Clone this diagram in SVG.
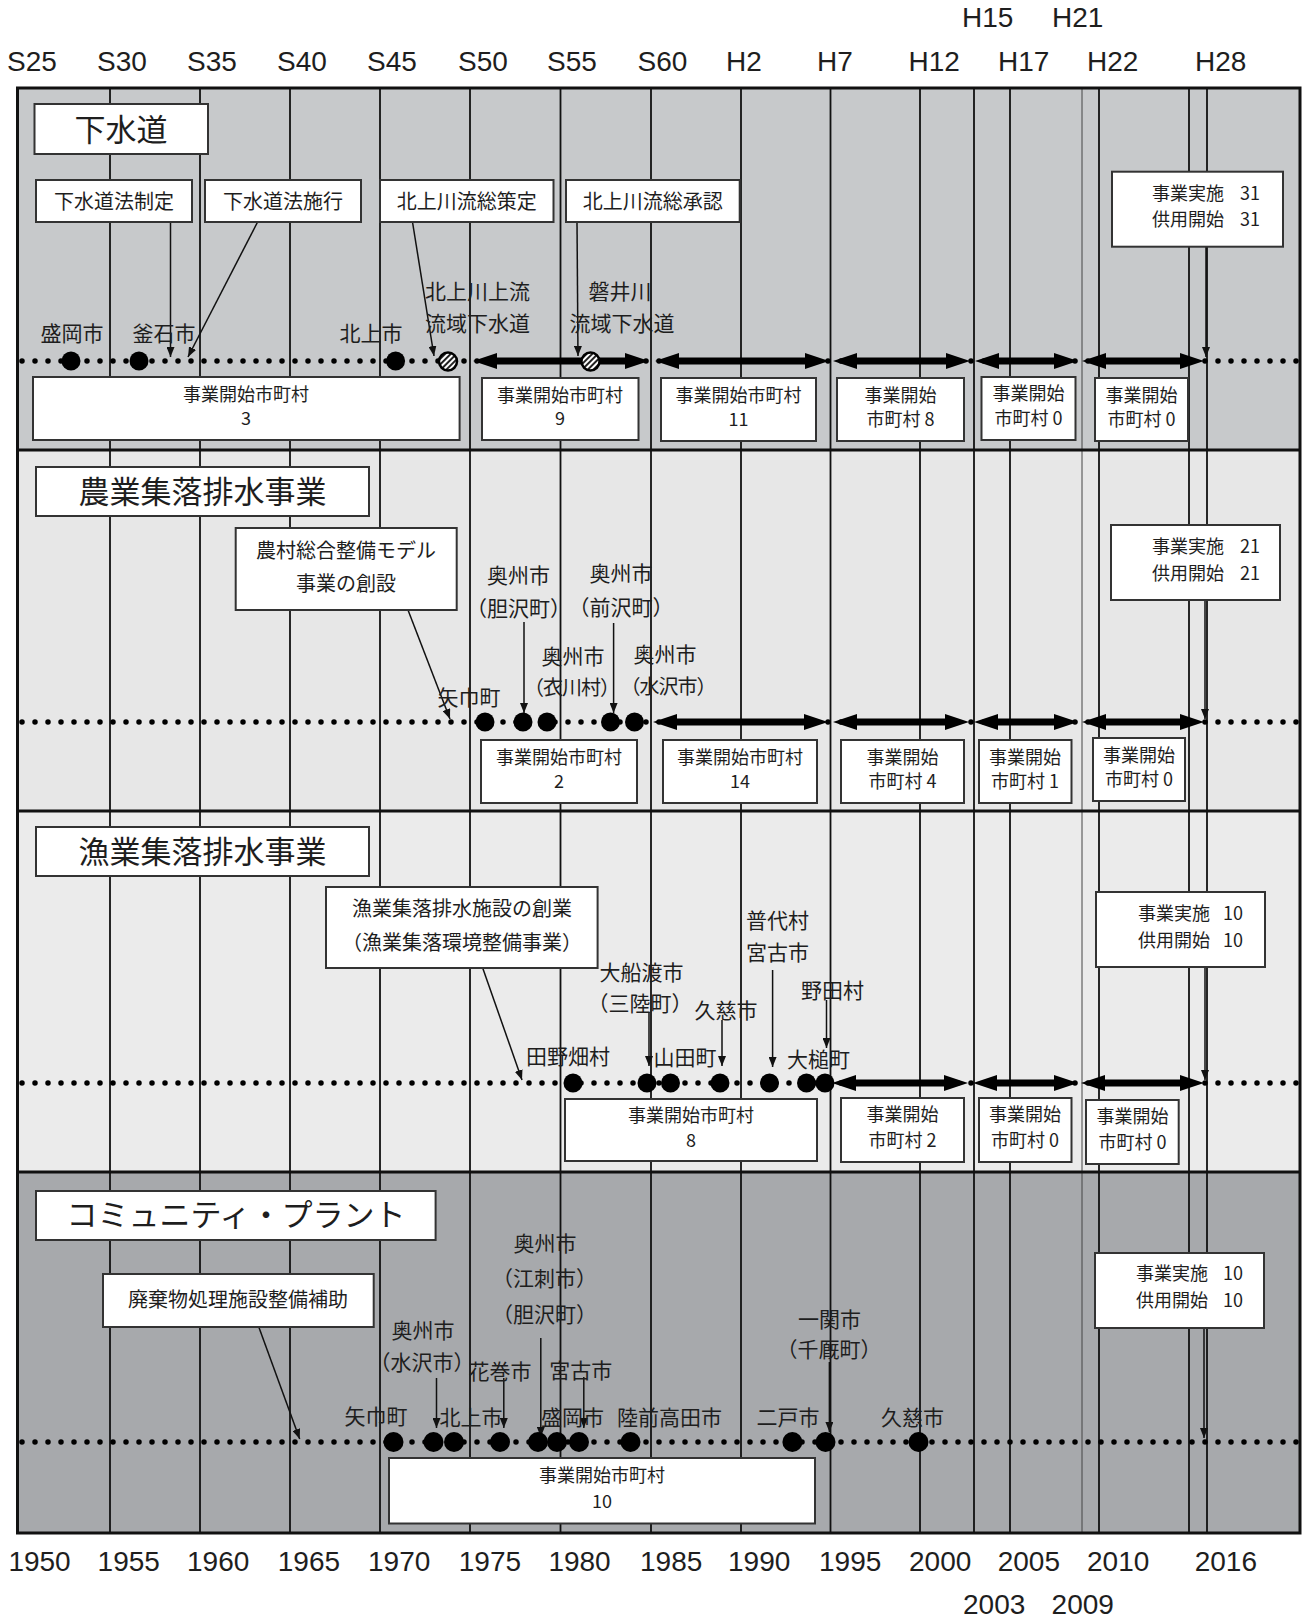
<svg xmlns="http://www.w3.org/2000/svg" width="1305" height="1617" viewBox="0 0 1305 1617">
<defs>
<style>
.jp{font-family:"Noto Sans CJK JP","Noto Sans",sans-serif;fill:#1e1e1e}
.yr{font-family:"Liberation Sans",Arial,sans-serif;font-size:28px;fill:#1e1e1e}
.grid line{stroke:#111;stroke-width:1.8}
.box{fill:#fff;stroke:#333;stroke-width:2}
.t31{font-size:31px}
.t20{font-size:20px}
.t18{font-size:18px}
.t21{font-size:21px}
.tight{font-size:20px;letter-spacing:-1px}
.c{text-anchor:middle}
.dot{fill:#000}
.dotline{stroke:#000;stroke-width:5.5;stroke-linecap:round;stroke-dasharray:0 13;fill:none}
.dbl line{stroke:#000;stroke-width:7}
.thin line{stroke:#111;stroke-width:1.5}
</style>
<marker id="dh" markerUnits="userSpaceOnUse" markerWidth="24" markerHeight="16" viewBox="0 0 24 16" refX="2" refY="8" orient="auto-start-reverse"><path d="M0,0 L24,8 L0,16 Z" fill="#000"/></marker>
<marker id="ah" markerUnits="userSpaceOnUse" markerWidth="10" markerHeight="8" viewBox="0 0 10 8" refX="10" refY="4" orient="auto"><path d="M0,0 L10,4 L0,8 Z" fill="#111"/></marker>
<pattern id="hatch" patternUnits="userSpaceOnUse" width="4" height="4" patternTransform="rotate(45)"><rect width="4" height="4" fill="#fff"/><rect width="2" height="4" fill="#222"/></pattern>
</defs>
<rect width="1305" height="1617" fill="#fff"/>

<!-- section backgrounds -->
<g id="backgrounds">
<rect x="17.5" y="88" width="1282.5" height="362" fill="#c7c9cb"/>
<rect x="17.5" y="450" width="1282.5" height="361" fill="#e7e7e7"/>
<rect x="17.5" y="811" width="1282.5" height="361" fill="#ebebeb"/>
<rect x="17.5" y="1172" width="1282.5" height="361" fill="#a7a9ac"/>
</g>

<!-- grid -->
<g id="grid" class="grid">
<line x1="110" y1="88" x2="110" y2="1533"/>
<line x1="200" y1="88" x2="200" y2="1533"/>
<line x1="290" y1="88" x2="290" y2="1533"/>
<line x1="380" y1="88" x2="380" y2="1533"/>
<line x1="470" y1="88" x2="470" y2="1533"/>
<line x1="560.5" y1="88" x2="560.5" y2="1533"/>
<line x1="651" y1="88" x2="651" y2="1533"/>
<line x1="741" y1="88" x2="741" y2="1533"/>
<line x1="830.5" y1="88" x2="830.5" y2="1533"/>
<line x1="920" y1="88" x2="920" y2="1533"/>
<line x1="974" y1="88" x2="974" y2="1533"/>
<line x1="1010" y1="88" x2="1010" y2="1533"/>
<line x1="1082" y1="88" x2="1082" y2="1533" style="stroke-width:1;stroke:#444"/>
<line x1="1099" y1="88" x2="1099" y2="1533"/>
<line x1="1189" y1="88" x2="1189" y2="1533"/>
<line x1="1207" y1="88" x2="1207" y2="1533"/>
<line x1="17.5" y1="450" x2="1300" y2="450" style="stroke-width:3"/>
<line x1="17.5" y1="811" x2="1300" y2="811" style="stroke-width:3"/>
<line x1="17.5" y1="1172" x2="1300" y2="1172" style="stroke-width:3"/>
<rect x="17.5" y="88" width="1282.5" height="1445" fill="none" stroke="#111" stroke-width="3"/>
</g>

<!-- year labels -->
<g id="years-top" class="yr">
<text x="7" y="70.5">S25</text>
<text x="97" y="70.5">S30</text>
<text x="187" y="70.5">S35</text>
<text x="277" y="70.5">S40</text>
<text x="367" y="70.5">S45</text>
<text x="458" y="70.5">S50</text>
<text x="547" y="70.5">S55</text>
<text x="637.5" y="70.5">S60</text>
<text x="726" y="70.5">H2</text>
<text x="817" y="70.5">H7</text>
<text x="908.5" y="70.5">H12</text>
<text x="998" y="70.5">H17</text>
<text x="1087" y="70.5">H22</text>
<text x="1195" y="70.5">H28</text>
<text x="962" y="27">H15</text>
<text x="1052" y="27">H21</text>
</g>
<g id="years-bottom" class="yr">
<text x="8.4" y="1570.5">1950</text>
<text x="97.6" y="1570.5">1955</text>
<text x="187" y="1570.5">1960</text>
<text x="277.8" y="1570.5">1965</text>
<text x="368" y="1570.5">1970</text>
<text x="458.8" y="1570.5">1975</text>
<text x="548.4" y="1570.5">1980</text>
<text x="640" y="1570.5">1985</text>
<text x="728" y="1570.5">1990</text>
<text x="819" y="1570.5">1995</text>
<text x="909" y="1570.5">2000</text>
<text x="997.7" y="1570.5">2005</text>
<text x="1087" y="1570.5">2010</text>
<text x="1194.7" y="1570.5">2016</text>
<text x="963" y="1614">2003</text>
<text x="1051.6" y="1614">2009</text>
</g>

<!-- connectors -->
<g id="connectors">
<g id="timelines">
<line class="dotline" x1="22" y1="361" x2="1298" y2="361"/>
<line class="dotline" x1="22" y1="722" x2="1298" y2="722"/>
<line class="dotline" x1="22" y1="1083" x2="1298" y2="1083"/>
<line class="dotline" x1="22" y1="1442" x2="1298" y2="1442"/>
</g>
<g id="periods" class="dbl" marker-start="url(#dh)" marker-end="url(#dh)">
<line x1="495" y1="361" x2="627" y2="361"/>
<line x1="677" y1="361" x2="807" y2="361"/>
<line x1="855" y1="361" x2="948" y2="361"/>
<line x1="997" y1="361" x2="1056" y2="361"/>
<line x1="1104" y1="361" x2="1182" y2="361"/>
<line x1="675" y1="722" x2="806" y2="722"/>
<line x1="855" y1="722" x2="947" y2="722"/>
<line x1="996" y1="722" x2="1056" y2="722"/>
<line x1="1104" y1="722" x2="1182" y2="722"/>
<line x1="854" y1="1083" x2="946" y2="1083"/>
<line x1="995" y1="1083" x2="1056" y2="1083"/>
<line x1="1103" y1="1083" x2="1182" y2="1083"/>
</g>
<g id="pointers" class="thin" marker-end="url(#ah)">
<line x1="170.5" y1="222" x2="170.5" y2="357"/>
<line x1="257.6" y1="222" x2="188" y2="357"/>
<line x1="412.5" y1="222" x2="434" y2="356"/>
<line x1="577" y1="222" x2="578" y2="356"/>
<line x1="1206" y1="247" x2="1206" y2="357"/>
<line x1="408" y1="610" x2="450" y2="719"/>
<line x1="524" y1="622" x2="524" y2="713"/>
<line x1="613.6" y1="623" x2="613.6" y2="713"/>
<line x1="1205" y1="600" x2="1205" y2="719"/>
<line x1="482.7" y1="968" x2="522" y2="1080"/>
<line x1="649" y1="1012" x2="649" y2="1066"/>
<line x1="722" y1="1020" x2="722" y2="1066"/>
<line x1="772.6" y1="970" x2="772.6" y2="1067"/>
<line x1="826.5" y1="1000" x2="826.5" y2="1048"/>
<line x1="1205" y1="967" x2="1205" y2="1080"/>
<line x1="258.8" y1="1327" x2="299.7" y2="1439"/>
<line x1="436.5" y1="1378" x2="436.5" y2="1428"/>
<line x1="503.8" y1="1378" x2="503.8" y2="1428"/>
<line x1="540.8" y1="1338" x2="540.8" y2="1437"/>
<line x1="583.8" y1="1377" x2="583.8" y2="1428"/>
<line x1="829.4" y1="1362" x2="829.4" y2="1432"/>
<line x1="1204" y1="1328" x2="1204" y2="1438"/>
</g>
</g>

<!-- ===== Section 1: 下水道 ===== -->
<g id="s1-title"><rect class="box" x="34.5" y="104" width="173.5" height="50"/><text class="jp t31 c" x="121" y="141">下水道</text></g>
<g id="s1-ev1"><rect class="box" x="36" y="180" width="156" height="42"/><text class="jp t20 c" x="114" y="208.5">下水道法制定</text></g>
<g id="s1-ev2"><rect class="box" x="205" y="180" width="156" height="42"/><text class="jp t20 c" x="283" y="208.5">下水道法施行</text></g>
<g id="s1-ev3"><rect class="box" x="380" y="180" width="173.5" height="42"/><text class="jp t20 c" x="466.7" y="208.5">北上川流総策定</text></g>
<g id="s1-ev4"><rect class="box" x="566" y="180" width="173.7" height="42"/><text class="jp t20 c" x="652.8" y="208.5">北上川流総承認</text></g>
<g id="s1-total"><rect class="box" x="1112" y="171.7" width="171" height="75"/><text class="jp t18" y="199.5"><tspan x="1152">事業実施</tspan><tspan x="1240">31</tspan></text><text class="jp t18" y="226"><tspan x="1152">供用開始</tspan><tspan x="1240">31</tspan></text></g>
<g id="s1-morioka"><circle class="dot" cx="71" cy="361" r="9.5"/><text class="jp t21 c" x="72" y="341">盛岡市</text></g>
<g id="s1-kamaishi"><circle class="dot" cx="139" cy="361" r="9.5"/><text class="jp t21 c" x="164" y="341">釜石市</text></g>
<g id="s1-kitakami"><circle class="dot" cx="395.6" cy="361" r="9.5"/><text class="jp t21 c" x="371" y="341">北上市</text></g>
<g id="s1-kitakamigawa"><circle cx="448" cy="361.5" r="9" fill="url(#hatch)" stroke="#000" stroke-width="2.5"/><text class="jp t21 c" x="477.5" y="299">北上川上流</text><text class="jp t21 c" x="477.5" y="331">流域下水道</text></g>
<g id="s1-iwaigawa"><circle cx="590.5" cy="361.5" r="9" fill="url(#hatch)" stroke="#000" stroke-width="2.5"/><text class="jp t21 c" x="620" y="299">磐井川</text><text class="jp t21 c" x="622" y="331">流域下水道</text></g>
<g id="s1-c1"><rect class="box" x="33" y="377" width="426.6" height="63"/><text class="jp t18 c" x="246" y="401">事業開始市町村</text><text class="jp t18 c" x="246" y="425">3</text></g>
<g id="s1-c2"><rect class="box" x="482" y="378" width="156.5" height="62"/><text class="jp t18 c" x="560" y="402">事業開始市町村</text><text class="jp t18 c" x="560" y="425">9</text></g>
<g id="s1-c3"><rect class="box" x="661" y="378" width="155" height="63"/><text class="jp t18 c" x="738.5" y="402">事業開始市町村</text><text class="jp t18 c" x="738.5" y="426">11</text></g>
<g id="s1-c4"><rect class="box" x="837" y="378" width="127" height="63"/><text class="jp t18 c" x="900.5" y="402">事業開始</text><text class="jp t18 c" x="900.5" y="426">市町村 8</text></g>
<g id="s1-c5"><rect class="box" x="981.5" y="377" width="94" height="63"/><text class="jp t18 c" x="1028.5" y="400">事業開始</text><text class="jp t18 c" x="1028.5" y="425">市町村 0</text></g>
<g id="s1-c6"><rect class="box" x="1095" y="378" width="93" height="63"/><text class="jp t18 c" x="1141.5" y="402">事業開始</text><text class="jp t18 c" x="1141.5" y="426">市町村 0</text></g>

<!-- ===== Section 2: 農業集落排水事業 ===== -->
<g id="s2-title"><rect class="box" x="36" y="467" width="333" height="49"/><text class="jp t31 c" x="202.5" y="503">農業集落排水事業</text></g>
<g id="s2-ev1"><rect class="box" x="235.7" y="528" width="221" height="82"/><text class="jp t20 c" x="346" y="557.6">農村総合整備モデル</text><text class="jp t20 c" x="346" y="591">事業の創設</text></g>
<g id="s2-total"><rect class="box" x="1111" y="525" width="169" height="75"/><text class="jp t18" y="553"><tspan x="1152">事業実施</tspan><tspan x="1240">21</tspan></text><text class="jp t18" y="580"><tspan x="1152">供用開始</tspan><tspan x="1240">21</tspan></text></g>
<g id="s2-yahaba"><circle class="dot" cx="485" cy="722" r="9.5"/><text class="jp t21 c" x="469" y="705">矢巾町</text></g>
<g id="s2-isawa"><circle class="dot" cx="523" cy="722" r="9.5"/><text class="jp t21 c" x="518.5" y="583">奥州市</text><text class="jp t21 c" x="518.5" y="616">（胆沢町）</text></g>
<g id="s2-koromogawa"><circle class="dot" cx="547" cy="722" r="9.5"/><text class="jp t21 c" x="573" y="664">奥州市</text><text class="jp tight c" x="571.5" y="695">（衣川村）</text></g>
<g id="s2-maesawa"><circle class="dot" cx="610.5" cy="722" r="9.5"/><text class="jp t21 c" x="621" y="581">奥州市</text><text class="jp t21 c" x="621" y="615">（前沢町）</text></g>
<g id="s2-mizusawa"><circle class="dot" cx="634.5" cy="722" r="9.5"/><text class="jp t21 c" x="665" y="662">奥州市</text><text class="jp tight c" x="668" y="694">（水沢市）</text></g>
<g id="s2-c1"><rect class="box" x="481" y="740" width="156" height="63"/><text class="jp t18 c" x="559" y="764">事業開始市町村</text><text class="jp t18 c" x="559" y="788">2</text></g>
<g id="s2-c2"><rect class="box" x="663" y="740" width="154" height="63"/><text class="jp t18 c" x="740" y="764">事業開始市町村</text><text class="jp t18 c" x="740" y="788">14</text></g>
<g id="s2-c3"><rect class="box" x="841" y="740" width="123" height="63"/><text class="jp t18 c" x="902.5" y="764">事業開始</text><text class="jp t18 c" x="902.5" y="788">市町村 4</text></g>
<g id="s2-c4"><rect class="box" x="979" y="740" width="92.5" height="63"/><text class="jp t18 c" x="1025" y="764">事業開始</text><text class="jp t18 c" x="1025" y="788">市町村 1</text></g>
<g id="s2-c5"><rect class="box" x="1093" y="738" width="92" height="63"/><text class="jp t18 c" x="1139" y="762">事業開始</text><text class="jp t18 c" x="1139" y="786">市町村 0</text></g>

<!-- ===== Section 3: 漁業集落排水事業 ===== -->
<g id="s3-title"><rect class="box" x="36" y="827" width="333" height="49"/><text class="jp t31 c" x="202.5" y="863">漁業集落排水事業</text></g>
<g id="s3-ev1"><rect class="box" x="326" y="887" width="271.6" height="81"/><text class="jp t20 c" x="462" y="915.6">漁業集落排水施設の創業</text><text class="jp t20 c" x="462" y="950.3">（漁業集落環境整備事業）</text></g>
<g id="s3-total"><rect class="box" x="1096" y="892" width="169" height="75"/><text class="jp t18" y="920"><tspan x="1138">事業実施</tspan><tspan x="1223">10</tspan></text><text class="jp t18" y="946.5"><tspan x="1138">供用開始</tspan><tspan x="1223">10</tspan></text></g>
<g id="s3-tanohata"><circle class="dot" cx="573" cy="1083" r="9.5"/><text class="jp t21 c" x="568" y="1064">田野畑村</text></g>
<g id="s3-sanriku"><circle class="dot" cx="647" cy="1083" r="9.5"/><text class="jp t21 c" x="641.5" y="980">大船渡市</text><text class="jp t21 c" x="640" y="1011">（三陸町）</text></g>
<g id="s3-yamada"><circle class="dot" cx="670.5" cy="1083" r="9.5"/><text class="jp t21 c" x="685" y="1064.5">山田町</text></g>
<g id="s3-kuji"><circle class="dot" cx="720" cy="1083" r="9.5"/><text class="jp t21 c" x="726" y="1018">久慈市</text></g>
<g id="s3-fudai"><circle class="dot" cx="769.5" cy="1083" r="9.5"/><text class="jp t21 c" x="777.5" y="928">普代村</text><text class="jp t21 c" x="777.5" y="959.7">宮古市</text></g>
<g id="s3-otsuchi"><circle class="dot" cx="806.5" cy="1083" r="9.5"/><text class="jp t21 c" x="818.5" y="1067">大槌町</text></g>
<g id="s3-noda"><circle class="dot" cx="825" cy="1083" r="9.5"/><text class="jp t21 c" x="832.5" y="998">野田村</text></g>
<g id="s3-c1"><rect class="box" x="565" y="1099" width="252" height="62"/><text class="jp t18 c" x="691" y="1122">事業開始市町村</text><text class="jp t18 c" x="691" y="1147">8</text></g>
<g id="s3-c2"><rect class="box" x="841" y="1098" width="123" height="64"/><text class="jp t18 c" x="902.5" y="1121">事業開始</text><text class="jp t18 c" x="902.5" y="1147">市町村 2</text></g>
<g id="s3-c3"><rect class="box" x="979" y="1098" width="92.5" height="64"/><text class="jp t18 c" x="1025" y="1121">事業開始</text><text class="jp t18 c" x="1025" y="1147">市町村 0</text></g>
<g id="s3-c4"><rect class="box" x="1086" y="1100" width="92.7" height="64"/><text class="jp t18 c" x="1132.5" y="1123">事業開始</text><text class="jp t18 c" x="1132.5" y="1149">市町村 0</text></g>

<!-- ===== Section 4: コミュニティ・プラント ===== -->
<g id="s4-title"><rect class="box" x="36" y="1191" width="399.6" height="49"/><text class="jp t31 c" x="236" y="1226">コミュニティ・プラント</text></g>
<g id="s4-ev1"><rect class="box" x="103" y="1274" width="270.7" height="53"/><text class="jp t20 c" x="238" y="1307">廃棄物処理施設整備補助</text></g>
<g id="s4-total"><rect class="box" x="1095" y="1253" width="169" height="75"/><text class="jp t18" y="1280"><tspan x="1136">事業実施</tspan><tspan x="1223">10</tspan></text><text class="jp t18" y="1307"><tspan x="1136">供用開始</tspan><tspan x="1223">10</tspan></text></g>
<g id="s4-yahaba"><circle class="dot" cx="393.5" cy="1442" r="10"/><text class="jp t21 c" x="376" y="1424">矢巾町</text></g>
<g id="s4-mizusawa"><circle class="dot" cx="433.5" cy="1442" r="10"/><text class="jp t21 c" x="423" y="1338">奥州市</text><text class="jp t21 c" x="422" y="1370">（水沢市）</text></g>
<g id="s4-kitakami"><circle class="dot" cx="454" cy="1442" r="10"/><text class="jp t21 c" x="471" y="1424.5">北上市</text></g>
<g id="s4-hanamaki"><circle class="dot" cx="500" cy="1442" r="10"/><text class="jp t21 c" x="500" y="1378.7">花巻市</text></g>
<g id="s4-esashi"><circle class="dot" cx="538" cy="1442" r="10"/><text class="jp t21 c" x="545" y="1250.7">奥州市</text><text class="jp t21 c" x="544.5" y="1286">（江刺市）</text><text class="jp t21 c" x="544.5" y="1322">（胆沢町）</text></g>
<g id="s4-morioka"><circle class="dot" cx="557" cy="1442" r="10"/><text class="jp t21 c" x="572.4" y="1424.7">盛岡市</text></g>
<g id="s4-miyako"><circle class="dot" cx="579" cy="1442" r="10"/><text class="jp t21 c" x="580.7" y="1378">宮古市</text></g>
<g id="s4-rikuzen"><circle class="dot" cx="630.5" cy="1442" r="10"/><text class="jp t21 c" x="669.5" y="1424.7">陸前高田市</text></g>
<g id="s4-ninohe"><circle class="dot" cx="792.4" cy="1442" r="10"/><text class="jp t21 c" x="788" y="1424.7">二戸市</text></g>
<g id="s4-senmaya"><circle class="dot" cx="825.5" cy="1442" r="10"/><text class="jp t21 c" x="829.5" y="1327">一関市</text><text class="jp t21 c" x="829" y="1357">（千厩町）</text></g>
<g id="s4-kuji"><circle class="dot" cx="918.5" cy="1442" r="10"/><text class="jp t21 c" x="912.5" y="1424.7">久慈市</text></g>
<g id="s4-c1"><rect class="box" x="389" y="1458" width="426" height="65.5"/><text class="jp t18 c" x="602" y="1482">事業開始市町村</text><text class="jp t18 c" x="602" y="1508">10</text></g>
</svg>
